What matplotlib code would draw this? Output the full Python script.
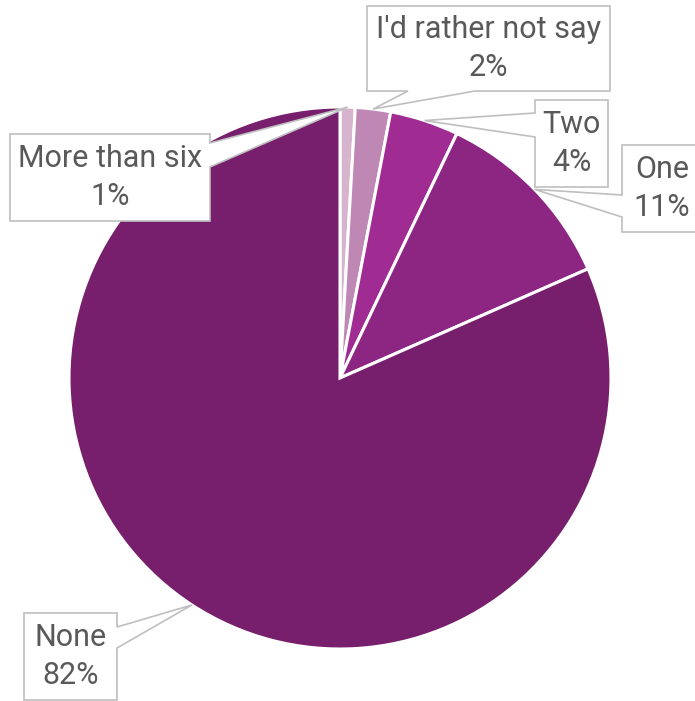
import numpy as np
import matplotlib
matplotlib.use("Agg")
import matplotlib.pyplot as plt
from matplotlib.patches import Polygon

plt.rcParams["font.family"] = ["Roboto", "DejaVu Sans"]

# data (clockwise from 12 o'clock)
CATEGORIES = ["More than six", "I'd rather not say", "Two", "One", "None"]
VALUES     = [0.9, 2.1, 4.1, 11.3, 81.6]
PCT_LABELS = ["1%", "2%", "4%", "11%", "82%"]
COLORS     = ["#D6B4CE", "#BE87B4", "#A02B93", "#8D2683", "#771E6C"]

W, H = 695, 701
CX, CY, R = 340, 378, 271

# callout layout in pixels: box (left, top, right, bottom), side, tail base
CALLOUTS = {
    "More than six":      ((10, 134, 210, 221), "right",  (143, 167)),
    "I'd rather not say": ((367, 6, 610, 91),   "bottom", (408, 475)),
    "Two":                ((535, 100, 608, 187), "left",  (113, 137)),
    "One":                ((622, 145, 705, 232), "left",  (195, 217)),
    "None":               ((24, 613, 117, 700),  "right", (627, 648)),
}


def px2d(x, y):
    return ((x - CX) / R, (CY - y) / R)


def callout_poly(box, side, base, tip):
    l, t, r, b = box
    a1, a2 = base
    pts = [(l, t)]
    if side == "top":
        pts += [(min(a1, a2), t), tip, (max(a1, a2), t)]
    pts.append((r, t))
    if side == "right":
        pts += [(r, min(a1, a2)), tip, (r, max(a1, a2))]
    pts.append((r, b))
    if side == "bottom":
        pts += [(max(a1, a2), b), tip, (min(a1, a2), b)]
    pts.append((l, b))
    if side == "left":
        pts += [(l, max(a1, a2)), tip, (l, min(a1, a2))]
    return [px2d(*p) for p in pts]


fig = plt.figure(figsize=(W / 100, H / 100), dpi=100)
ax = fig.add_axes([(CX - R) / W, (H - CY - R) / H, 2 * R / W, 2 * R / H])

wedges, _ = ax.pie(VALUES, colors=COLORS, startangle=90, counterclock=False,
                   radius=1, wedgeprops=dict(edgecolor="white", linewidth=2.2))
ax.set_xlim(-1, 1)
ax.set_ylim(-1, 1)
ax.set_aspect("equal")
ax.axis("off")

for w, cat, pct in zip(wedges, CATEGORIES, PCT_LABELS):
    mid = np.deg2rad((w.theta1 + w.theta2) / 2)
    tip_px = (CX + np.cos(mid) * R, CY - np.sin(mid) * R)
    box, side, base = CALLOUTS[cat]
    poly = Polygon(callout_poly(box, side, base, tip_px), closed=True,
                   facecolor="white", edgecolor="#BFBFBF", linewidth=1.2,
                   clip_on=False, zorder=3)
    ax.add_patch(poly)
    tx = 662 if cat == "One" else (box[0] + box[2]) / 2
    cx, cy = px2d(tx, (box[1] + box[3]) / 2)
    ax.text(cx, cy, f"{cat}\n{pct}", ha="center", va="center",
            multialignment="center", fontsize=22, color="#595959",
            linespacing=1.36, zorder=4, clip_on=False)

fig.savefig("out.png", dpi=100)
